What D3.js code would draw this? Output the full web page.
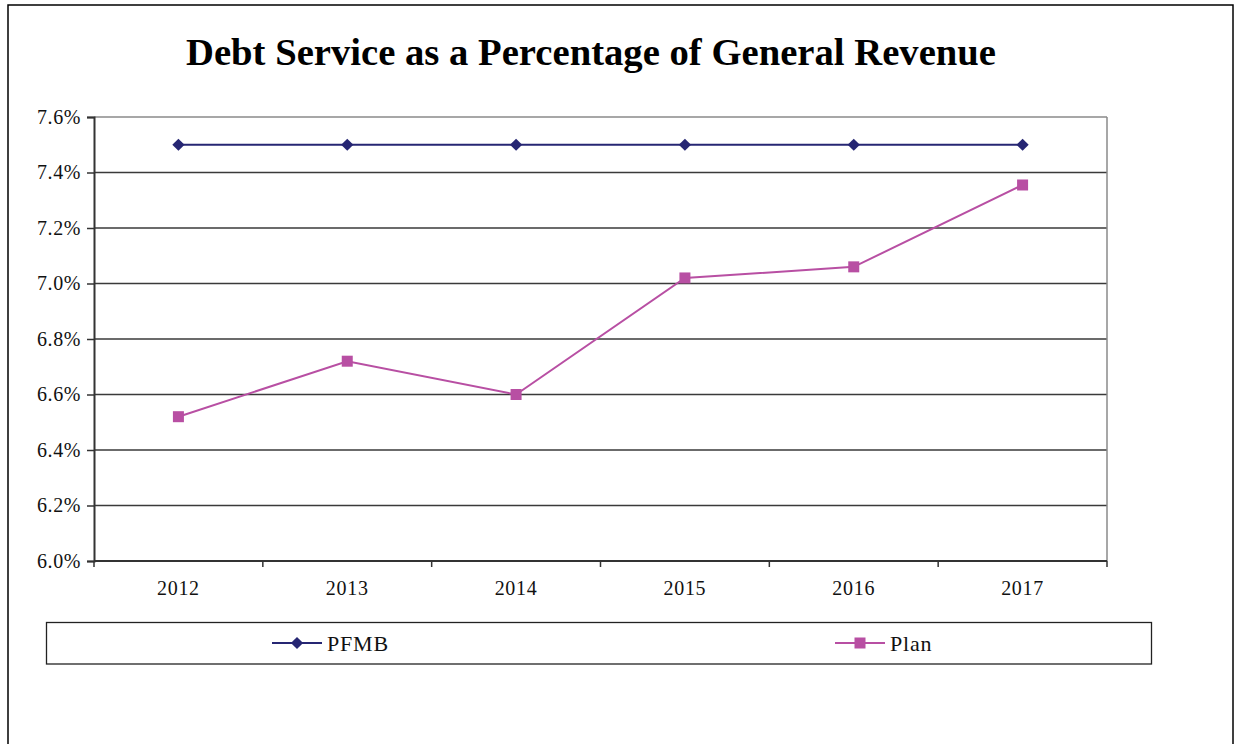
<!DOCTYPE html>
<html>
<head>
<meta charset="utf-8">
<script src="https://cdn.jsdelivr.net/npm/d3@7"></script>
<style>
  html, body { margin: 0; padding: 0; background: #fff; }
  svg { display: block; font-family: "Liberation Serif", "Times New Roman", serif; }
</style>
</head>
<body>
<svg id="chart" width="1235" height="744"></svg>
<script>
// Chart data
const years = ["2012", "2013", "2014", "2015", "2016", "2017"];
const pfmbValues = [7.5, 7.5, 7.5, 7.5, 7.5, 7.5];
const planValues = [6.52, 6.72, 6.60, 7.02, 7.06, 7.355];
const yTicks = [6.0, 6.2, 6.4, 6.6, 6.8, 7.0, 7.2, 7.4, 7.6];
const seriesNames = ["PFMB", "Plan"];
const titleText = "Debt Service as a Percentage of General Revenue";

const svg = d3.select("#chart");

// Outer chart frame
svg.append("rect")
  .attr("x", 8).attr("y", 5)
  .attr("width", 1225).attr("height", 760)
  .attr("fill", "#fff").attr("stroke", "#000").attr("stroke-width", 1.5);

// Title
svg.append("text")
  .attr("x", 591).attr("y", 65)
  .attr("text-anchor", "middle")
  .attr("font-size", 37).attr("font-weight", "bold")
  .attr("textLength", 810).attr("lengthAdjust", "spacingAndGlyphs")
  .attr("fill", "#000")
  .text(titleText);

const plot = { left: 94, right: 1107, top: 117, bottom: 561 };

const x = d3.scaleBand().domain(years).range([plot.left, plot.right]).padding(0);
const y = d3.scaleLinear().domain([6.0, 7.6]).range([plot.bottom, plot.top]);

// Horizontal gridlines
svg.append("g")
  .selectAll("line")
  .data(yTicks.slice(1))
  .join("line")
  .attr("x1", plot.left).attr("x2", plot.right)
  .attr("y1", d => y(d)).attr("y2", d => y(d))
  .attr("stroke", (d, i, a) => i === a.length - 1 ? "#8a8a8a" : "#3a3a3a")
  .attr("stroke-width", 1.3);

// Plot-area right border
svg.append("line")
  .attr("x1", plot.right).attr("x2", plot.right)
  .attr("y1", plot.top).attr("y2", plot.bottom)
  .attr("stroke", "#8a8a8a").attr("stroke-width", 1.5);

// Y axis
const yAxis = d3.axisLeft(y)
  .tickValues(yTicks)
  .tickFormat(d => d.toFixed(1) + "%")
  .tickSize(7).tickPadding(6);
const gy = svg.append("g").attr("transform", `translate(${plot.left},0)`).call(yAxis);
gy.select(".domain").attr("stroke", "#333").attr("stroke-width", 2);
gy.selectAll(".tick line").attr("stroke", "#333").attr("stroke-width", 1.5);
gy.selectAll(".tick text")
  .attr("font-family", "Liberation Serif, Times New Roman, serif")
  .attr("font-size", 20).attr("letter-spacing", 0.6).attr("fill", "#111");

// X axis: ticks at category boundaries, labels centred in each category
const boundaries = d3.range(years.length + 1).map(i => plot.left + i * x.step());
const gx = svg.append("g");
gx.append("line")
  .attr("x1", plot.left).attr("x2", plot.right)
  .attr("y1", plot.bottom).attr("y2", plot.bottom)
  .attr("stroke", "#333").attr("stroke-width", 2);
gx.selectAll("line.tk")
  .data(boundaries)
  .join("line").attr("class", "tk")
  .attr("x1", d => d).attr("x2", d => d)
  .attr("y1", plot.bottom).attr("y2", plot.bottom + 6)
  .attr("stroke", "#333").attr("stroke-width", 1.5);
gx.selectAll("text")
  .data(years)
  .join("text")
  .attr("x", d => x(d) + x.bandwidth() / 2)
  .attr("y", 595)
  .attr("text-anchor", "middle")
  .attr("font-size", 20).attr("letter-spacing", 0.7).attr("fill", "#111")
  .text(d => d);

const cx = d => x(d) + x.bandwidth() / 2;
const pfmbColor = "#262673";
const planColor = "#b84fa3";

const line = d3.line().x(d => cx(d.year)).y(d => y(d.value));
const pfmbData = years.map((yr, i) => ({ year: yr, value: pfmbValues[i] }));
const planData = years.map((yr, i) => ({ year: yr, value: planValues[i] }));

// PFMB series
svg.append("path").datum(pfmbData)
  .attr("d", line).attr("fill", "none")
  .attr("stroke", pfmbColor).attr("stroke-width", 2);
svg.append("g").selectAll("path")
  .data(pfmbData).join("path")
  .attr("transform", d => `translate(${cx(d.year)},${y(d.value)}) rotate(45)`)
  .attr("d", d3.symbol().type(d3.symbolSquare).size(75))
  .attr("fill", pfmbColor);

// Plan series
svg.append("path").datum(planData)
  .attr("d", line).attr("fill", "none")
  .attr("stroke", planColor).attr("stroke-width", 2);
svg.append("g").selectAll("rect")
  .data(planData).join("rect")
  .attr("x", d => cx(d.year) - 5.5).attr("y", d => y(d.value) - 5.5)
  .attr("width", 11).attr("height", 11)
  .attr("fill", planColor);

// Legend
const legend = svg.append("g");
legend.append("rect")
  .attr("x", 46.5).attr("y", 622.5)
  .attr("width", 1105).attr("height", 41.5)
  .attr("fill", "#fff").attr("stroke", "#222").attr("stroke-width", 1.3);

const legendItems = [
  { name: seriesNames[0], color: pfmbColor, x0: 272, marker: "diamond" },
  { name: seriesNames[1], color: planColor, x0: 835, marker: "square" }
];
const ly = 643;
legendItems.forEach(it => {
  legend.append("line")
    .attr("x1", it.x0).attr("x2", it.x0 + 50)
    .attr("y1", ly).attr("y2", ly)
    .attr("stroke", it.color).attr("stroke-width", 2);
  if (it.marker === "diamond") {
    legend.append("path")
      .attr("transform", `translate(${it.x0 + 25},${ly}) rotate(45)`)
      .attr("d", d3.symbol().type(d3.symbolSquare).size(75))
      .attr("fill", it.color);
  } else {
    legend.append("rect")
      .attr("x", it.x0 + 25 - 5.5).attr("y", ly - 5.5)
      .attr("width", 11).attr("height", 11)
      .attr("fill", it.color);
  }
  legend.append("text")
    .attr("x", it.x0 + 55).attr("y", ly + 7.5)
    .attr("font-size", 22).attr("letter-spacing", 0.8).attr("fill", "#111")
    .text(it.name);
});
</script>
</body>
</html>
